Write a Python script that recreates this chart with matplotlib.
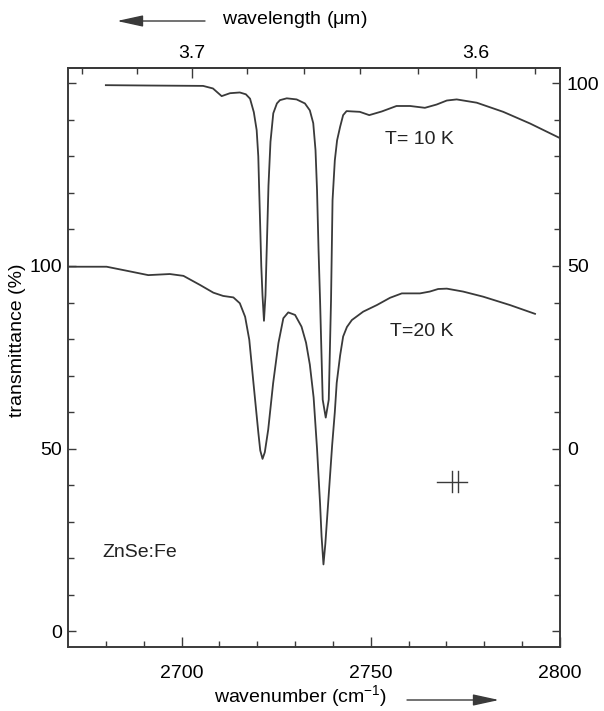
import matplotlib.pyplot as plt
from matplotlib.patches import FancyArrowPatch

plt.rcParams['font.family'] = ['Liberation Sans', 'DejaVu Sans']
plt.rcParams['mathtext.fontset'] = 'custom'
plt.rcParams['mathtext.rm'] = 'Liberation Sans'

# T = 10 K spectrum (right axis)
wn_10k = [2680.0, 2691.7, 2705.7, 2708.3, 2710.6, 2712.8, 2715.4, 2717.0, 2718.1,
          2719.1, 2719.85, 2720.28, 2720.54, 2720.81, 2721.07, 2721.39, 2721.78,
          2722.18, 2722.44, 2722.71, 2722.97, 2723.5, 2724.24, 2725.2, 2726.0,
          2727.8, 2730.4, 2732.6, 2733.9, 2734.8, 2735.4, 2735.8, 2736.2, 2736.6,
          2737.3, 2738.1, 2738.9, 2739.5, 2739.7, 2739.9, 2740.5, 2741.1, 2741.9,
          2742.7, 2743.6, 2745.3, 2747.1, 2749.6, 2752.9, 2756.8, 2760.4, 2764.3,
          2767.4, 2770.1, 2772.7, 2778.0, 2785.0, 2792.1, 2800.0]
t_10k = [99.5, 99.4, 99.3, 98.6, 96.5, 97.3, 97.5, 97.0, 95.8,
         92.1, 87.2, 80.0, 70.0, 60.0, 50.0, 42.0, 35.0,
         42.0, 52.0, 62.0, 72.0, 84.0, 91.8, 94.5, 95.4,
         95.9, 95.6, 94.5, 92.6, 89.1, 81.7, 70.8, 54.4, 40.7,
         13.4, 8.5, 13.4, 40.7, 54.4, 68.0, 78.9, 84.4, 88.1,
         91.3, 92.4, 92.3, 92.2, 91.3, 92.3, 93.8, 93.8, 93.3,
         94.2, 95.3, 95.6, 94.7, 92.2, 89.0, 85.0]

# T = 20 K spectrum (left axis)
wn_20k = [2670.0, 2680.2, 2685.5, 2691.2, 2696.9, 2700.5, 2704.9, 2708.4, 2711.0,
          2713.7, 2715.4, 2716.8, 2717.9, 2719.0, 2720.3, 2720.8, 2721.4, 2722.0,
          2722.9, 2724.2, 2725.6, 2726.9, 2728.2, 2730.0, 2731.7, 2732.9, 2733.9,
          2734.9, 2735.8, 2736.6, 2737.0, 2737.5, 2738.0, 2738.6, 2739.2, 2739.8,
          2740.5, 2741.0, 2741.9, 2742.7, 2743.7, 2745.0, 2748.0, 2751.6, 2755.1,
          2758.2, 2763.0, 2765.6, 2767.8, 2770.1, 2774.4, 2779.7, 2786.8, 2793.4]
t_20k = [99.8, 99.8, 98.7, 97.5, 97.8, 97.3, 94.8, 92.7, 91.8,
         91.4, 89.8, 86.1, 79.8, 68.0, 54.3, 49.5, 47.2, 49.0,
         55.2, 67.9, 78.9, 85.7, 87.3, 86.6, 83.4, 79.0, 73.0,
         64.0, 50.0, 35.0, 26.0, 18.3, 24.0, 33.0, 42.0, 51.0,
         60.0, 68.0, 75.5, 80.7, 83.3, 85.2, 87.5, 89.3, 91.3,
         92.5, 92.5, 93.0, 93.7, 93.8, 93.0, 91.6, 89.3, 86.9]

# resolution marker
res_x = [2767.5, 2775.4]
res_bars = [2771.5, 2773.0]
res_y = 41
res_h = [38, 44]

wl_major = [3.7, 3.6]
wl_minor = [3.74, 3.72, 3.68, 3.66, 3.64, 3.62, 3.58]

col = '#3a3a3a'
fs = 14

fig = plt.figure(figsize=(6.04, 7.11), dpi=100)
ax = fig.add_axes([68/604, 1-647/711, (560-68)/604, (647-68)/711])
ax2 = ax.twinx()

ax.plot(wn_20k, t_20k, color=col, lw=1.3)
ax2.plot(wn_10k, t_10k, color=col, lw=1.3)

ax.plot(res_x, [res_y, res_y], color=col, lw=1.0)
for xb in res_bars:
    ax.plot([xb, xb], res_h, color=col, lw=1.0)

ax.set_xlim(2670, 2800)
ax.set_ylim(-4.3, 154.2)
ax2.set_ylim(-54.3, 104.2)

ax.set_xticks([2700, 2750, 2800])
ax.set_xticks(range(2680, 2800, 10), minor=True)
ax.set_yticks([0, 50, 100, 150])
ax.set_yticklabels(['0', '50', '100', ''])
ax.set_yticks(range(0, 151, 10), minor=True)
ax2.set_yticks([-50, 0, 50, 100])
ax2.set_yticklabels(['', '0', '50', '100'])
ax2.set_yticks(range(-50, 101, 10), minor=True)

ax.tick_params(which='both', direction='in', color=col, width=1.0, labelsize=fs, right=False, top=False)
ax.tick_params(axis='x', which='major', length=7, pad=13)
ax.tick_params(axis='y', which='major', length=6, pad=4)
ax.tick_params(which='minor', length=4)
ax2.tick_params(which='both', direction='in', color=col, width=1.0, labelsize=fs, pad=5)
ax2.tick_params(which='major', length=6)
ax2.tick_params(which='minor', length=4)

# top wavelength axis
sec = ax.secondary_xaxis('top', functions=(lambda w: 1e4 / w, lambda l: 1e4 / l))
sec.set_xticks(wl_major)
sec.set_xticklabels(['3.7', '3.6'])
sec.set_xticks(wl_minor, minor=True)
sec.tick_params(which='both', direction='in', color=col, width=1.0, labelsize=fs, pad=4)
sec.tick_params(which='major', length=7)
sec.tick_params(which='minor', length=4)

for a in (ax, ax2, sec):
    for s in a.spines.values():
        s.set_color(col)
        s.set_linewidth(1.2)

ax2.text(2753.7, 84.7, 'T= 10 K', fontsize=fs, va='center', ha='left', color='#222222')
ax.text(2755.1, 82.0, 'T=20 K', fontsize=fs, va='center', ha='left', color='#222222')
ax.text(2679.2, 21.6, 'ZnSe:Fe', fontsize=fs, va='center', ha='left', color='#222222')

# axis labels with arrows
fig.text(18/604, 1-340/711, 'transmittance (%)', rotation=90, ha='center', va='center', fontsize=fs)
fig.text(301/604, 1-697/711, r'wavenumber (cm$^{\mathregular{-1}}$)', ha='center', va='center', fontsize=fs)
fig.text(295/604, 1-20/711, r'wavelength ($\mathregular{\mu}$m)', ha='center', va='center', fontsize=fs)
arrow = dict(arrowstyle='-|>,head_length=1.6,head_width=0.35', mutation_scale=10,
             color=col, lw=1.0, shrinkA=0, shrinkB=0, transform=fig.transFigure)
fig.add_artist(FancyArrowPatch((407/604, 1-700/711), (499/604, 1-700/711), **arrow))
fig.add_artist(FancyArrowPatch((205/604, 1-21/711), (117/604, 1-21/711), **arrow))

plt.savefig('out.png', dpi=100)
